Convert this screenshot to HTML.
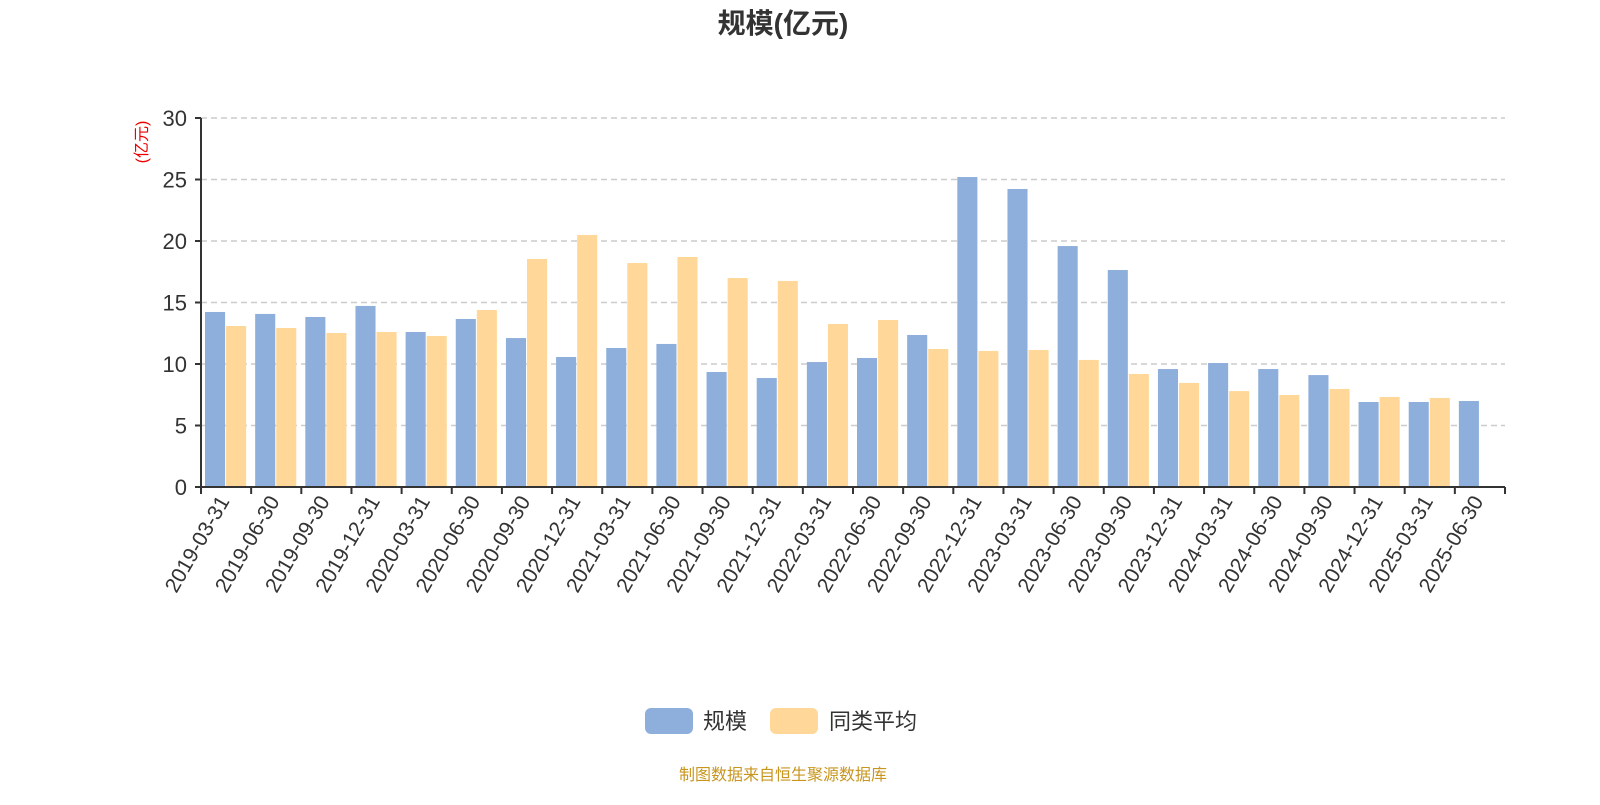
<!DOCTYPE html>
<html><head><meta charset="utf-8"><style>
body{margin:0;background:#fff;}
svg text{font-family:"Liberation Sans","Noto Sans CJK SC",sans-serif;}
</style></head><body>
<svg width="1600" height="800" xmlns="http://www.w3.org/2000/svg">
<text x="783" y="33" text-anchor="middle" font-size="28" font-weight="bold" fill="#333">规模(亿元)</text>
<text transform="translate(147,142) rotate(-90)" text-anchor="middle" font-size="16" fill="#e00">(亿元)</text>
<g id="grid"></g><g id="bars"></g><g id="axes"></g>
<g>
<rect x="645" y="708" width="48" height="26" rx="6" fill="#8eaedb"/>
<text x="703" y="729" font-size="22" fill="#333">规模</text>
<rect x="770" y="708" width="48" height="26" rx="6" fill="#ffd899"/>
<text x="829" y="729" font-size="22" fill="#333">同类平均</text>
</g>
<text x="783" y="780" text-anchor="middle" font-size="16" fill="#c8961e">制图数据来自恒生聚源数据库</text>
</svg>
<script>
const categories=["2019-03-31","2019-06-30","2019-09-30","2019-12-31","2020-03-31","2020-06-30","2020-09-30","2020-12-31","2021-03-31","2021-06-30","2021-09-30","2021-12-31","2022-03-31","2022-06-30","2022-09-30","2022-12-31","2023-03-31","2023-06-30","2023-09-30","2023-12-31","2024-03-31","2024-06-30","2024-09-30","2024-12-31","2025-03-31","2025-06-30"];
const scaleValues=[14.23,14.07,13.82,14.72,12.6,13.66,12.11,10.57,11.3,11.63,9.35,8.86,10.16,10.49,12.36,25.2,24.23,19.59,17.64,9.59,10.08,9.59,9.1,6.91,6.91,6.99];
const avgValues=[13.09,12.93,12.52,12.6,12.28,14.39,18.54,20.49,18.21,18.7,16.99,16.75,13.25,13.58,11.22,11.06,11.14,10.33,9.19,8.46,7.8,7.48,7.97,7.32,7.24,null];
const yTicks=[0,5,10,15,20,25,30];
const NS="http://www.w3.org/2000/svg";
const x0=201,x1=1505,yBase=487,yTop=118,yMax=30;
const band=(x1-x0)/categories.length;
function y(v){return yBase-(v/yMax)*(yBase-yTop);}
function xs(i){return x0+i*band;}
function mk(tag,attrs,parent){const e=document.createElementNS(NS,tag);for(const k in attrs)e.setAttribute(k,attrs[k]);parent.appendChild(e);return e;}
const grid=document.getElementById('grid'),bars=document.getElementById('bars'),axes=document.getElementById('axes');
yTicks.forEach(t=>{
 if(t>0){const l=mk('line',{x1:x0,x2:x1,y1:y(t),y2:y(t),stroke:'#ccc','stroke-dasharray':'6,4','stroke-width':1.5},grid);
 
 }
 const tx=mk('text',{x:x0-14,y:y(t)+8,'text-anchor':'end','font-size':22,fill:'#333'},axes);
 tx.textContent=t;
 
 
});
const bw=band*0.4;
categories.forEach((c,i)=>{
 const bx=xs(i)+band*0.08;
 const b=mk('rect',{x:bx,y:y(scaleValues[i]),width:bw,height:yBase-y(scaleValues[i]),fill:'#8eaedb'},bars);
 
 
 if(avgValues[i]!=null){
  const a=mk('rect',{x:bx+bw+band*0.02,y:y(avgValues[i]),width:bw,height:yBase-y(avgValues[i]),fill:'#ffd899'},bars);
  
  
 }
 const cx=xs(i)+band/2;
 const lab=mk('text',{transform:`translate(${cx+4},${yBase+14}) rotate(-60)`,'text-anchor':'end','font-size':21,fill:'#333'},axes);
 lab.textContent=c;
 
 
});
for(let i=0;i<=categories.length;i++){
 const tk=mk('line',{x1:xs(i),x2:xs(i),y1:yBase,y2:yBase+7,stroke:'#333','stroke-width':2},axes);
 
 
}
yTicks.forEach(t=>{const tk=mk('line',{x1:x0-6,x2:x0,y1:y(t),y2:y(t),stroke:'#333','stroke-width':2},axes);
 
 });
const ya=mk('line',{x1:x0,x2:x0,y1:yTop,y2:yBase,stroke:'#333','stroke-width':2},axes);


const xa=mk('line',{x1:x0,x2:x1,y1:yBase,y2:yBase,stroke:'#333','stroke-width':2},axes);


</script>
</body></html>
